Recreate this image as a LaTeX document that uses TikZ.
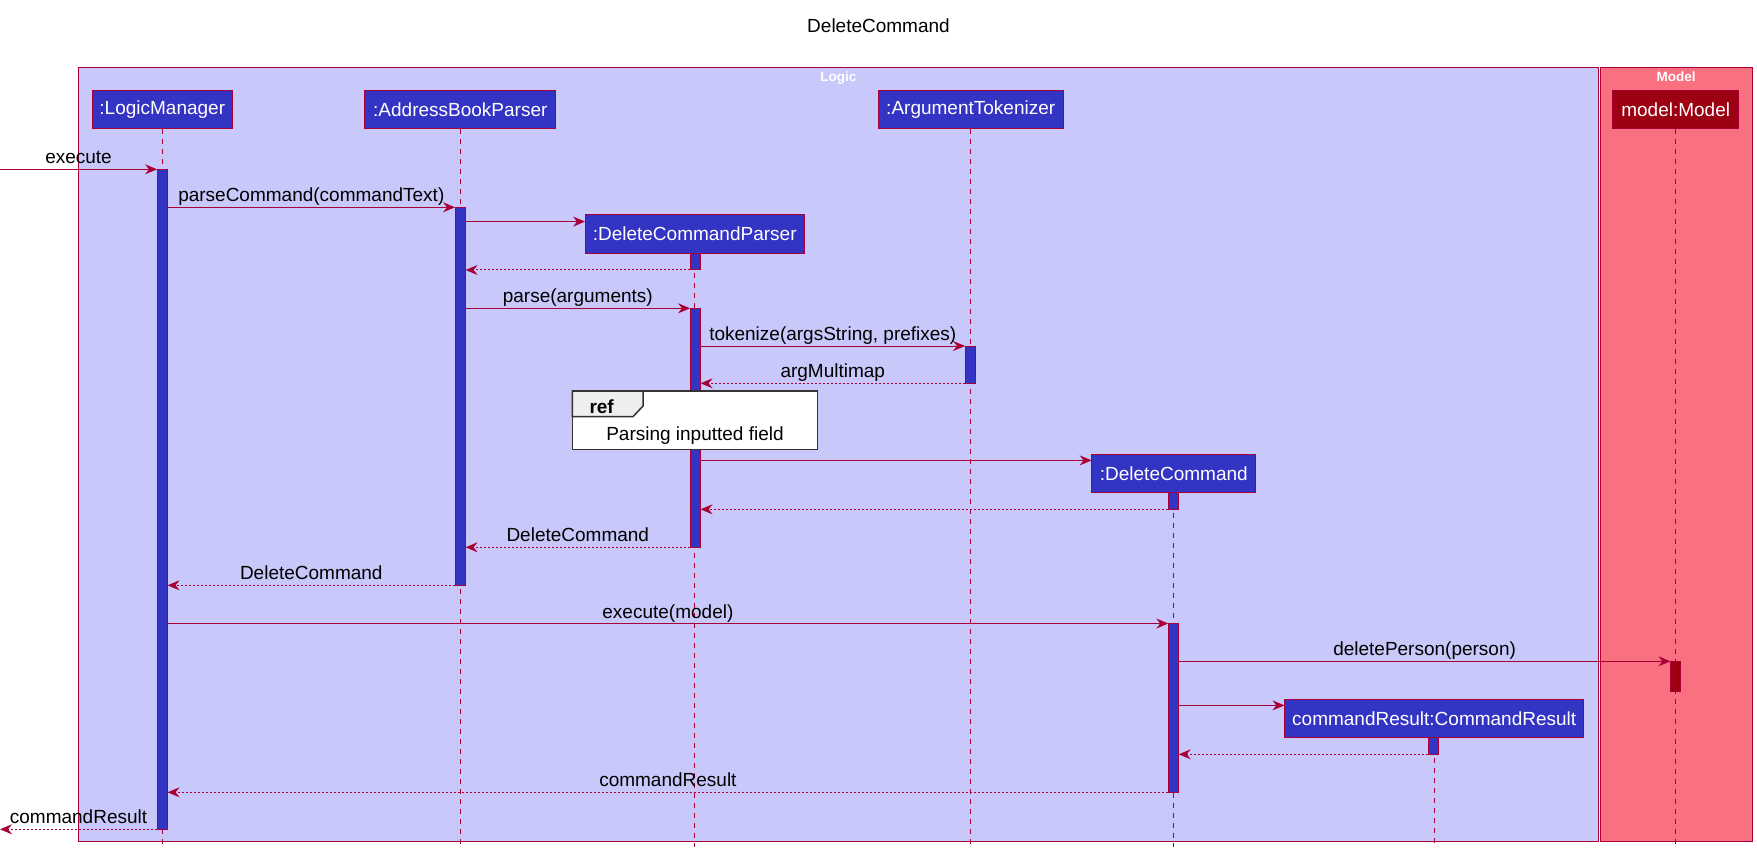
\documentclass[tikz,border=0pt]{standalone}
\usepackage{fontspec}
\setmainfont{Liberation Sans}
\usetikzlibrary{arrows.meta}
\definecolor{crim}{HTML}{A80036}
\definecolor{logicTone}{HTML}{C8C8FA}
\definecolor{logicCol}{HTML}{3333C4}
\definecolor{modelTone}{HTML}{F97181}
\definecolor{modelCol}{HTML}{9D0012}
\definecolor{refHead}{HTML}{EEEEEE}
\definecolor{refLine}{HTML}{333333}
\begin{document}
\begin{tikzpicture}[x=1pt,y=-1pt,
 big/.style={font=\fontsize{19}{23}\selectfont},
 part/.style={big, draw=crim, fill=logicCol, text=white, minimum height=38.5pt, inner sep=0pt, outer sep=0pt, line width=1pt},
 act/.style={draw=crim, fill=logicCol, line width=1pt, minimum width=10.5pt, inner sep=0pt, outer sep=0pt},
 life/.style={draw=crim, line width=1pt, dash pattern=on 5pt off 5pt},
 msg/.style={draw=crim, line width=1pt, -{Stealth[length=12pt,width=10pt,inset=4pt]}},
 ret/.style={msg, dash pattern=on 2pt off 2pt},
 lbl/.style={big, anchor=base, yshift=5.5pt, text=black, midway},
 boxlbl/.style={font=\fontsize{13.5}{16}\selectfont\bfseries, text=white, anchor=base},
]
\useasboundingbox (0,0) rectangle (1757,853);
\fill[white] (0,0) rectangle (1757,853);
% frames
\draw[draw=crim, fill=logicTone, line width=1pt] (78.3,67.3) rectangle (1598,841);
\draw[draw=crim, fill=modelTone, line width=1pt] (1600,67.3) rectangle (1752,841);
\node[boxlbl] (logicL) at (838.3,81.7) {Logic};
\node[boxlbl] (modelL) at (1676,81.7) {Model};
% title
\node[big, anchor=base] (title) at (878.5,32.3) {DeleteCommand};
% participants
\node[part, minimum width=140pt] (lm) at (162.3,109.65) {:LogicManager};
\node[part, minimum width=191pt] (abp) at (460.3,109.65) {:AddressBookParser};
\node[part, minimum width=185.3pt] (at) at (970.7,109.65) {:ArgumentTokenizer};
\node[part, minimum width=126pt, fill=modelCol] (mm) at (1675.7,109.65) {model:Model};
\node[part, minimum width=219.3pt] (dcp) at (694.7,234.15) {:DeleteCommandParser};
\node[part, minimum width=164.3pt] (dc) at (1173.8,473.35) {:DeleteCommand};
\node[part, minimum width=299.5pt] (cr) at (1434.2,718.35) {commandResult:CommandResult};
% lifelines
\coordinate (bot) at (0,846.5);
\foreach \p in {lm,abp,at,mm,dcp,dc,cr} \draw[life] (\p.south) -- (\p.south |- bot);
% activations
\node[act, minimum height=660pt] (lmA) at (162.3,499.3) {};
\node[act, minimum height=378pt] (abpA) at (460.3,396.3) {};
\node[act, minimum height=16.7pt] (dcpA1) at (695.3,261.65) {};
\node[act, minimum height=239pt] (dcpA2) at (695.3,427.8) {};
\node[act, minimum height=37.3pt] (atA) at (970.3,364.65) {};
\node[act, minimum height=16.6pt] (dcA1) at (1173.5,501) {};
\node[act, minimum height=168.8pt] (dcA2) at (1173.5,707.9) {};
\node[act, minimum height=30.4pt, fill=modelCol] (mA) at (1675.7,676.5) {};
\node[act, minimum height=16.6pt] (crA) at (1433.7,746) {};
% messages
\coordinate (inS) at (0,169.3);
\draw[msg] (inS) -- (lmA.north west) node[lbl]{execute};
\draw[msg] (lmA.east |- abpA.north) -- (abpA.north west) node[lbl]{parseCommand(commandText)};
\coordinate (c1) at ([yshift=-6.7pt]dcp.north west);
\draw[msg] (abpA.east |- c1) -- (c1);
\draw[ret] (dcpA1.south west) -- (abpA.east |- dcpA1.south);
\draw[msg] (abpA.east |- dcpA2.north) -- (dcpA2.north west) node[lbl]{parse(arguments)};
\draw[msg] (dcpA2.east |- atA.north) -- (atA.north west) node[lbl]{tokenize(argsString, prefixes)};
\draw[ret] (atA.south west) -- (dcpA2.east |- atA.south) node[lbl]{argMultimap};
\coordinate (c2) at ([yshift=-6.3pt]dc.north west);
\draw[msg] (dcpA2.east |- c2) -- (c2);
\draw[ret] (dcA1.south west) -- (dcpA2.east |- dcA1.south);
\draw[ret] (dcpA2.south west) -- (abpA.east |- dcpA2.south) node[lbl]{DeleteCommand};
\draw[ret] (abpA.south west) -- (lmA.east |- abpA.south) node[lbl]{DeleteCommand};
\draw[msg] (lmA.east |- dcA2.north) -- (dcA2.north west) node[lbl]{execute(model)};
\draw[msg] (dcA2.east |- mA.north) -- (mA.north west) node[lbl]{deletePerson(person)};
\coordinate (c3) at ([yshift=-6.3pt]cr.north west);
\draw[msg] (dcA2.east |- c3) -- (c3);
\draw[ret] (crA.south west) -- (dcA2.east |- crA.south);
\draw[ret] (dcA2.south west) -- (lmA.east |- dcA2.south) node[lbl]{commandResult};
\coordinate (outE) at (0,829.3);
\draw[ret] (lmA.south west) -- (outE) node[lbl]{commandResult};
% ref box
\draw[draw=refLine, fill=white, line width=1.5pt] (572.3,391) rectangle (817.7,449.3);
\draw[draw=refLine, fill=refHead, line width=1.5pt] (572.3,391) -- (643,391) -- (643,406) -- (633,416.7) -- (572.3,416.7) -- cycle;
\node[font=\fontsize{19}{23}\selectfont\bfseries, anchor=base west] (refT) at (586,413) {ref};
\node[big, anchor=base] (refL) at (695,440.7) {Parsing inputted field};
\end{tikzpicture}
\end{document}
